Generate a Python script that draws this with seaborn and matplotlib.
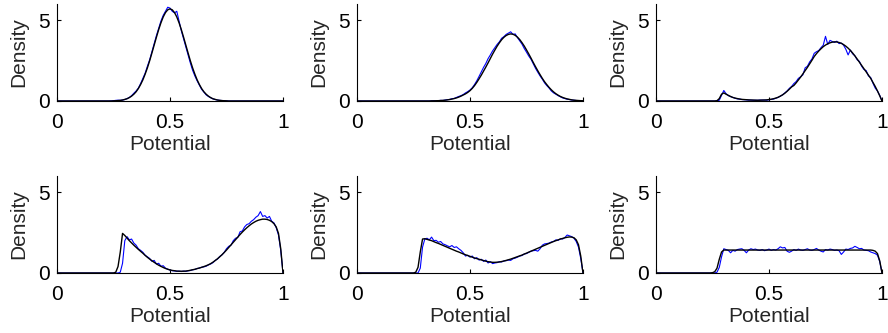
import matplotlib
matplotlib.use("Agg")
import matplotlib.pyplot as plt
import pandas as pd
import seaborn as sns

# x grid (potential values sampled every 0.01)
potential = [round(i / 100, 2) for i in range(101)]
x_ticks = [0, 0.5, 1]
x_tick_labels = ["0", "0.5", "1"]
y_ticks = [0, 5]
y_tick_labels = ["0", "5"]
x_label = "Potential"
y_label = "Density"

# ---------------- panel 1 (top left) ----------------
sim_1 = ([0] * 24 +
         [0.01, 0.02, 0.04, 0.05, 0.04, 0.06, 0.09, 0.15, 0.22, 0.33,
          0.48, 0.62, 0.80, 1.08, 1.40, 1.72, 2.15, 2.55, 3.05, 3.55,
          4.05, 4.50, 4.95, 5.30, 5.55, 5.80, 5.75] +
         [5.55, 5.45, 5.55, 4.95, 4.35, 3.85, 3.35, 2.85, 2.35, 1.90,
          1.55, 1.25, 0.98, 0.72, 0.55, 0.38, 0.28, 0.20, 0.13, 0.09,
          0.06, 0.04, 0.03, 0.02, 0.01] +
         [0] * 25)
fit_1 = ([0] * 25 +
         [0.01, 0.015, 0.025, 0.04, 0.06, 0.10, 0.14, 0.21, 0.30, 0.42,
          0.57, 0.77, 1.02, 1.31, 1.66, 2.05, 2.49, 2.97, 3.46, 3.95,
          4.42, 4.84, 5.20, 5.47, 5.64, 5.70] +
         [5.64, 5.47, 5.20, 4.84, 4.42, 3.95, 3.46, 2.97, 2.49, 2.05,
          1.66, 1.31, 1.02, 0.77, 0.57, 0.42, 0.30, 0.21, 0.14, 0.10,
          0.06, 0.04, 0.025, 0.015, 0.01] +
         [0] * 25)

# ---------------- panel 2 (top middle) ----------------
sim_2 = ([0] * 33 +
         [0.01, 0.02, 0.01, 0.02, 0.04, 0.03, 0.06, 0.08, 0.10, 0.14,
          0.16, 0.22, 0.28, 0.33, 0.40, 0.50, 0.58, 0.68, 0.82, 1.02,
          1.25, 1.52, 1.80, 2.08, 2.32, 2.62, 2.85, 3.10, 3.30, 3.50,
          3.66, 3.88, 3.98, 4.12, 4.20, 4.28, 4.12, 4.15, 3.92, 3.72,
          3.52, 3.25, 3.02, 2.78, 2.58, 2.30, 2.02, 1.78, 1.55, 1.35,
          1.12, 0.95, 0.80, 0.62, 0.50, 0.42, 0.33, 0.26, 0.19, 0.15,
          0.11, 0.09, 0.06, 0.05, 0.03, 0.02, 0.02, 0.01])
fit_2 = ([0] * 33 +
         [0.01, 0.01, 0.015, 0.02, 0.03, 0.04, 0.05, 0.07, 0.09, 0.12,
          0.15, 0.19, 0.24, 0.30, 0.37, 0.44, 0.53, 0.64, 0.78, 0.95,
          1.15, 1.37, 1.60, 1.85, 2.10, 2.36, 2.63, 2.90, 3.15, 3.39,
          3.60, 3.79, 3.94, 4.05, 4.12, 4.15, 4.13, 4.06, 3.95, 3.80,
          3.61, 3.40, 3.16, 2.91, 2.65, 2.38, 2.12, 1.87, 1.63, 1.40,
          1.19, 1.01, 0.84, 0.69, 0.56, 0.45, 0.36, 0.28, 0.22, 0.17,
          0.13, 0.10, 0.07, 0.05, 0.04, 0.03, 0.02, 0.015])

# ---------------- panel 3 (top right) ----------------
sim_3 = ([0] * 28 +
         [0.05, 0.35, 0.65, 0.45, 0.33, 0.27, 0.22, 0.17, 0.13, 0.12,
          0.09, 0.08, 0.07, 0.05, 0.06, 0.04, 0.05, 0.04, 0.06] +
         [0.05, 0.06, 0.05, 0.08, 0.10, 0.12, 0.17, 0.22, 0.30, 0.38,
          0.50, 0.62, 0.78, 0.90] +
         [1.08, 1.20, 1.40, 1.50, 1.62, 2.05, 2.15, 2.42, 2.60, 2.95] +
         [3.05, 3.12, 3.30, 3.45, 4.00, 3.50, 3.75, 3.68, 3.62, 3.70] +
         [3.55, 3.58, 3.45, 3.20, 2.85, 3.15, 2.92, 2.80, 2.55, 2.45] +
         [2.15, 1.95, 1.88, 1.55, 1.45, 1.10, 0.80, 0.62, 0.35, 0.0])
fit_3 = ([0] * 27 +
         [0.02, 0.15, 0.42, 0.50, 0.42, 0.35, 0.28, 0.22, 0.18, 0.15,
          0.12, 0.10, 0.09, 0.08, 0.07, 0.06, 0.06, 0.05, 0.05, 0.05] +
         [0.06, 0.06, 0.07, 0.09, 0.11, 0.14, 0.18, 0.23, 0.30, 0.38,
          0.48, 0.60, 0.73, 0.87] +
         [0.96, 1.12, 1.30, 1.48, 1.68, 1.88, 2.08, 2.30, 2.52, 2.75] +
         [2.93, 3.09, 3.23, 3.36, 3.46, 3.54, 3.60, 3.64, 3.66, 3.65] +
         [3.62, 3.57, 3.49, 3.39, 3.27, 3.13, 2.97, 2.79, 2.60, 2.40] +
         [2.20, 2.00, 1.80, 1.60, 1.40, 1.15, 0.90, 0.62, 0.32, 0.0])

# ---------------- panel 4 (bottom left) ----------------
sim_4 = ([0] * 28 +
         [0.05, 0.60, 2.00, 2.25, 2.05, 2.10, 1.85, 1.72] +
         [1.50, 1.40, 1.28, 1.10, 1.00, 0.90, 0.72, 0.78, 0.55, 0.60] +
         [0.42, 0.45, 0.30, 0.24, 0.18, 0.14, 0.13, 0.10, 0.12, 0.09] +
         [0.12, 0.10, 0.14, 0.15, 0.20, 0.22, 0.28, 0.30, 0.36, 0.38] +
         [0.42, 0.50, 0.56, 0.64, 0.78, 0.86, 1.02, 1.12, 1.28, 1.50] +
         [1.65, 1.72, 2.00, 2.15, 2.20, 2.55, 2.60, 2.85, 3.00, 3.05] +
         [3.20, 3.30, 3.45, 3.55, 3.80, 3.50, 3.55, 3.40, 3.50, 3.20] +
         [3.10, 2.80, 2.35, 1.40, 0.0])
fit_4 = ([0] * 26 +
         [0.05, 0.40, 1.30, 2.45, 2.32, 2.16, 2.00, 1.86, 1.72, 1.59] +
         [1.46, 1.34, 1.22, 1.09, 0.97, 0.86, 0.76, 0.66, 0.57, 0.48] +
         [0.41, 0.34, 0.28, 0.23, 0.19, 0.16, 0.14, 0.12, 0.11, 0.11] +
         [0.11, 0.12, 0.14, 0.17, 0.20, 0.23, 0.27, 0.31, 0.35, 0.40] +
         [0.45, 0.51, 0.58, 0.67, 0.77, 0.88, 1.00, 1.13, 1.27, 1.42] +
         [1.58, 1.74, 1.90, 2.06, 2.22, 2.38, 2.53, 2.67, 2.80, 2.92] +
         [3.03, 3.12, 3.20, 3.26, 3.30, 3.33, 3.33, 3.31, 3.26, 3.18] +
         [3.05, 2.85, 2.45, 1.50, 0.0])

# ---------------- panel 5 (bottom middle) ----------------
sim_5 = ([0] * 28 +
         [0.30, 1.60, 2.10, 2.15, 2.05, 2.22, 2.00, 2.02] +
         [1.90, 1.95, 1.80, 1.75, 1.68, 1.62, 1.70, 1.58, 1.62, 1.50] +
         [1.40, 1.25, 1.05, 1.10, 0.98, 1.05, 0.88, 0.95, 0.80, 0.85] +
         [0.72, 0.80, 0.62, 0.70, 0.58, 0.62, 0.64, 0.70, 0.68, 0.75] +
         [0.76, 0.80, 0.78, 0.88, 0.92, 0.98, 1.05, 1.08, 1.18, 1.20] +
         [1.28, 1.35, 1.38, 1.40, 1.35, 1.50, 1.72, 1.80, 1.82, 1.85] +
         [1.92, 1.95, 2.05, 2.02, 2.12, 2.10, 2.20, 2.35, 2.30, 2.25] +
         [2.15, 1.95, 1.60, 0.90, 0.0])
fit_5 = ([0] * 26 +
         [0.05, 0.35, 1.30, 2.10, 2.12, 2.08, 2.04, 2.00, 1.94, 1.88] +
         [1.83, 1.77, 1.71, 1.65, 1.59, 1.53, 1.47, 1.41, 1.35, 1.30] +
         [1.24, 1.18, 1.13, 1.08, 1.03, 0.98, 0.93, 0.89, 0.85, 0.81] +
         [0.77, 0.73, 0.70, 0.68, 0.66, 0.66, 0.67, 0.68, 0.71, 0.74] +
         [0.78, 0.82, 0.86, 0.91, 0.96, 1.01, 1.06, 1.11, 1.17, 1.23] +
         [1.29, 1.35, 1.41, 1.47, 1.53, 1.59, 1.65, 1.71, 1.77, 1.83] +
         [1.89, 1.95, 2.00, 2.05, 2.10, 2.14, 2.18, 2.21, 2.23, 2.22] +
         [2.18, 2.05, 1.75, 1.05, 0.0])

# ---------------- panel 6 (bottom right) ----------------
sim_6 = ([0] * 27 +
         [0.05, 0.35, 1.00, 1.50] +
         [1.45, 1.40, 1.25, 1.40, 1.35, 1.45, 1.48, 1.50, 1.40, 1.25] +
         [1.42, 1.50, 1.45, 1.48, 1.42, 1.40, 1.45, 1.38, 1.42, 1.48] +
         [1.40, 1.45, 1.42, 1.50, 1.62, 1.55, 1.58, 1.35, 1.28, 1.35] +
         [1.45, 1.40, 1.48, 1.42, 1.40, 1.45, 1.50, 1.42, 1.40, 1.45] +
         [1.52, 1.42, 1.35, 1.30, 1.45, 1.42, 1.48, 1.45, 1.40, 1.42] +
         [1.38, 1.15, 1.30, 1.48, 1.45, 1.52, 1.55, 1.65, 1.58, 1.50] +
         [1.52, 1.42, 1.40, 1.38, 1.30, 1.25, 1.20, 1.10, 0.70, 0.0])
fit_6 = ([0] * 25 +
         [0.02, 0.08, 0.30, 0.85, 1.30, 1.42] +
         [1.42, 1.42, 1.42, 1.42, 1.42, 1.42, 1.42, 1.42, 1.42, 1.42] +
         [1.42, 1.42, 1.42, 1.42, 1.42, 1.42, 1.42, 1.42, 1.42, 1.42] +
         [1.42, 1.42, 1.42, 1.42, 1.42, 1.42, 1.42, 1.42, 1.42, 1.42] +
         [1.42, 1.42, 1.42, 1.42, 1.42, 1.42, 1.42, 1.42, 1.42, 1.42] +
         [1.42, 1.42, 1.42, 1.42, 1.42, 1.42, 1.42, 1.42, 1.42, 1.42] +
         [1.42, 1.42, 1.42, 1.42, 1.42, 1.42, 1.42, 1.42, 1.42, 1.42] +
         [1.42, 1.42, 1.42, 1.42, 1.42] +
         [1.40, 1.35, 1.20, 0.75, 0.0])

panels = [(sim_1, fit_1), (sim_2, fit_2), (sim_3, fit_3),
          (sim_4, fit_4), (sim_5, fit_5), (sim_6, fit_6)]

sns.set_style("ticks")
plt.rcParams["font.family"] = ["Liberation Sans", "DejaVu Sans"]

W, H = 888, 333
fig = plt.figure(figsize=(W / 100, H / 100), dpi=100)
col_left = [57, 357, 656]
row_base = [101, 273]
ax_w, ax_h = 226, 97

for i, (sim, fit) in enumerate(panels):
    assert len(sim) == 101 and len(fit) == 101, (i, len(sim), len(fit))
    r, c = divmod(i, 3)
    ax = fig.add_axes([col_left[c] / W, 1 - row_base[r] / H, ax_w / W, ax_h / H])
    df = pd.DataFrame({"Potential": potential, "sim": sim, "fit": fit})
    sns.lineplot(data=df, x="Potential", y="sim", ax=ax, color="#0000ff", lw=0.8)
    sns.lineplot(data=df, x="Potential", y="fit", ax=ax, color="black", lw=1.0)
    ax.set_xlim(0, 1)
    ax.set_ylim(0, 6)
    ax.set_xticks(x_ticks)
    ax.set_xticklabels(x_tick_labels)
    ax.set_yticks(y_ticks)
    ax.set_yticklabels(y_tick_labels)
    ax.set_xlabel(x_label, fontsize=15, labelpad=2)
    ax.set_ylabel(y_label, fontsize=15, labelpad=7.5)
    ax.tick_params(direction="in", length=3, width=0.8, labelsize=15,
                   colors="black")
    ax.tick_params(axis="x", pad=9)
    ax.tick_params(axis="y", pad=5)
    sns.despine(ax=ax)
    for s in ("left", "bottom"):
        ax.spines[s].set_linewidth(0.8)
        ax.spines[s].set_color("black")

fig.savefig("out.png", dpi=100)
